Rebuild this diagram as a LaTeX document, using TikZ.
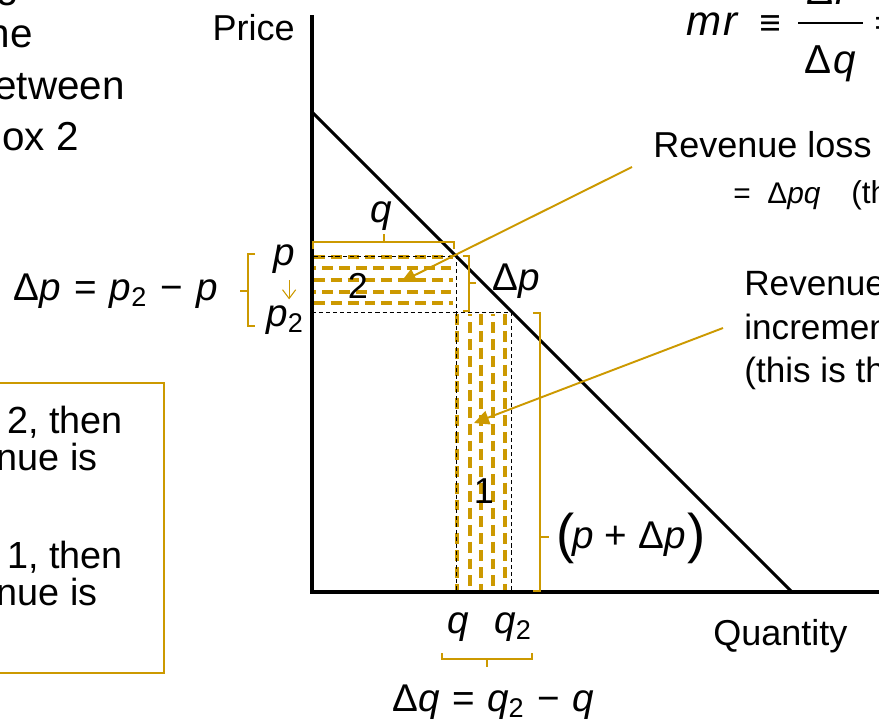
\documentclass[tikz,border=0pt]{standalone}
\usepackage{fontspec}
\setmainfont{Liberation Sans}
\usetikzlibrary{arrows.meta}
\definecolor{gold}{RGB}{204,153,0}
\newcommand{\mv}[1]{\textit{#1}}
\newcommand{\fsz}[1]{\fontsize{#1}{#1}\selectfont}

\begin{document}
\begin{tikzpicture}[x=0.02cm,y=-0.02cm,inner sep=0pt,font=\fsz{20.5pt},
  axisline/.style={line width=2.3pt},
  hatchline/.style={draw=gold,line width=1.75pt,dash pattern=on 6.2pt off 3.4pt},
  boxedge/.style={draw=black,line width=.5pt,dash pattern=on 2.3pt off 1.7pt},
  bracket/.style={draw=gold,line width=.9pt},
  pointer/.style={draw=gold,line width=1.1pt,-{Triangle[length=8.5pt,width=8pt]}}]
\useasboundingbox (0,0) rectangle (879,721);
\clip (0,0) rectangle (879,721);
\node[anchor=base east,font=\fsz{23pt}] (topA) at (19,-3) {comparing};
\node[anchor=base east,font=\fsz{23pt}] (topB) at (33,47) {the};
\node[anchor=base east,font=\fsz{23pt}] (topC) at (125,99) {between};
\node[anchor=base east,font=\fsz{23pt}] (topD) at (79,150) {box 2};
\draw[gold,line width=.9pt] (-10,383) rectangle (164,673);
\node[anchor=base east,font=\fsz{21.5pt}] (boxA) at (123,433) {box 2, then};
\node[anchor=base east,font=\fsz{21.5pt}] (boxB) at (98,470) {revenue is};
\node[anchor=base east,font=\fsz{21.5pt}] (boxC) at (123,568) {box 1, then};
\node[anchor=base east,font=\fsz{21.5pt}] (boxD) at (98,605) {revenue is};
\foreach \yy/\ph in {257/0,268/4.8,280/0,292/4.8,303/0}
  \draw[hatchline,dash phase=\ph pt] (314,\yy) -- (453,\yy);
\foreach \xx/\ph in {457/0,470/4.8,481/0,493/4.8,505/0}
  \draw[hatchline,dash phase=\ph pt] (\xx,314) -- (\xx,590);
\draw[boxedge] (312,256) rectangle (456,312);
\draw[boxedge] (456,312) rectangle (511,592);
\draw[axisline] (312,15) -- (312,592) -- (890,592);
\draw[line width=1.8pt] (312,112) -- (792,592);
\node[anchor=base east] (price) at (295,40) {Price};
\node[anchor=base west] (quantity) at (713,645) {Quantity};
\node[anchor=base] (two) at (358,298) {2};
\node[anchor=base] (one) at (484,503) {1};
\draw[bracket] (313,249) -- (313,242) -- (454,242) -- (454,249) (384,242) -- (384,234);
\node[anchor=base west,font=\fsz{22pt}] (qtop) at (370,222) {\mv{q}};
\draw[bracket] (463,256) -- (469,256) -- (469,311) -- (463,311) (469,283) -- (476,283);
\node[anchor=base west,font=\fsz{22pt}] (dp) at (492,290) {Δ\mv{p}};
\draw[bracket] (255,254) -- (248,254) -- (248,326) -- (255,326) (248,291) -- (240,291);
\node[anchor=base west,font=\fsz{22pt}] (pold) at (273,265) {\mv{p}};
\node[anchor=base west,font=\fsz{22pt}] (pnew) at (266,326) {\mv{p}\textsubscript{2}};
\draw[gold,line width=.6pt,-{Straight Barb[length=5pt,width=7.5pt]}] (pold.south) ++(5,7) coordinate (down) -- ++(0,19);
\node[anchor=base west,font=\fsz{22pt}] (dpeq) at (13,300) {Δ\mv{p}\kern1.5pt{} = \kern1.5pt\mv{p}\textsubscript{2}\kern1.5pt{} − \kern1.5pt\mv{p}};
\draw[bracket] (533,313) -- (540,313) -- (540,591) -- (533,591) (540,537) -- (549,537);
\node[anchor=base west,font=\fsz{22pt}] (pdp) at (556,548) {\raisebox{-2.5pt}{\fsz{31pt}(}\kern-1pt\mv{p} + Δ\mv{p}\kern1pt\raisebox{-2.5pt}{\fsz{31pt})}};
\node[anchor=base west,font=\fsz{22pt}] (qold) at (447,633) {\mv{q}};
\node[anchor=base west,font=\fsz{22pt}] (qnew) at (494,633) {\mv{q}\textsubscript{2}};
\draw[bracket] (442,653) -- (442,659) -- (532,659) -- (532,653) (487,659) -- (487,667);
\node[anchor=base west,font=\fsz{22pt}] (dqeq) at (392,711) {Δ\mv{q}\kern1pt{} = \kern1pt\mv{q}\textsubscript{2}\kern1pt{} − \kern1pt\mv{q}};
\node[anchor=base west,font=\fsz{24pt}] (mr) at (686,35) {\mv{m}\kern1pt\mv{r}};
\node[anchor=base west,font=\fsz{21pt}] (equiv) at (759,35) {≡};
\node[anchor=base west,font=\fsz{23pt}] (num) at (806,4) {Δ\kern1.5pt\mv{r}};
\node[anchor=base west,font=\fsz{23pt}] (den) at (804,73) {Δ\kern1.5pt\mv{q}};
\draw[line width=1.4pt] (798,23) -- (863,23);
\node[anchor=base west,font=\fsz{21pt}] (eqtail) at (874,35) {=};
\node[anchor=base west] (lossA) at (653,157) {Revenue loss};
\node[anchor=base west,font=\fsz{17pt}] (lossEq) at (733,203) {=};
\node[anchor=base west,font=\fsz{17pt}] (lossB) at (767,203) {Δ\mv{pq}};
\node[anchor=base west,font=\fsz{18pt}] (lossC) at (851,203) {(this};
\node[anchor=base west,font=\fsz{20pt}] (gainA) at (744,295) {Revenue};
\node[anchor=base west,font=\fsz{20pt}] (gainB) at (744,339) {incremental};
\node[anchor=base west,font=\fsz{20pt}] (gainC) at (744,382) {(this is the};
\coordinate (lossFrom) at (632,167);
\coordinate (lossTo) at (401,282);
\coordinate (gainFrom) at (723,328);
\coordinate (gainTo) at (474,423);
\draw[pointer] (lossFrom) -- (lossTo);
\draw[pointer] (gainFrom) -- (gainTo);
\end{tikzpicture}
\end{document}
